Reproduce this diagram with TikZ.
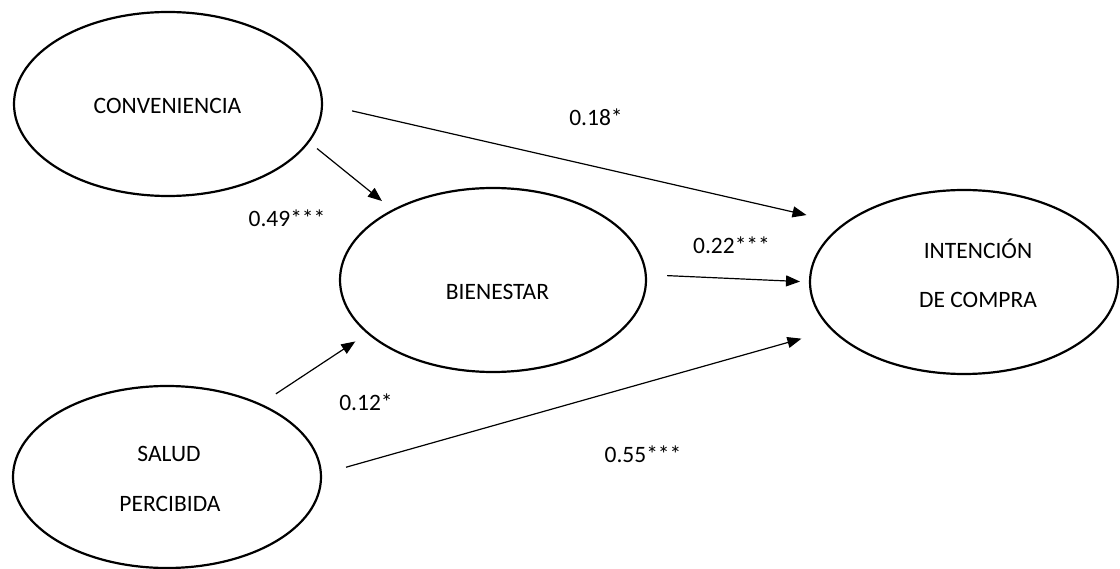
\documentclass[tikz,border=0pt]{standalone}
\usepackage{fontspec}
\setmainfont{Carlito}
\usetikzlibrary{shapes.geometric,arrows.meta}

\tikzset{
  construct/.style={ellipse, draw, line width=2.2pt, inner sep=0pt, outer sep=0pt,
                    minimum width=308pt, minimum height=184pt},
  txt/.style={anchor=base, inner sep=0pt, font=\fontsize{23.5}{28}\selectfont},
  path/.style={line width=1.2pt, -{Triangle[length=14pt,width=11pt]}}
}

\begin{document}
\begin{tikzpicture}[x=1pt, y=-1pt]
  \useasboundingbox (0,0) rectangle (1120,569);

  % latent constructs
  \node[construct] (conv) at (168,104) {};
  \node[construct, minimum width=306pt] (bien) at (493,280) {};
  \node[construct] (inte) at (964,282) {};
  \node[construct, minimum height=182pt] (salud) at (167,477) {};

  % construct names
  \node[txt] (convname) at (167.5,114) {CONVENIENCIA};
  \node[txt] (bienname) at (497.5,300) {BIENESTAR};
  \node[txt] (intename1) at (978,259) {INTENCIÓN};
  \node[txt] (intename2) at (978,308) {DE COMPRA};
  \node[txt] (saludname1) at (169,461) {SALUD};
  \node[txt] (saludname2) at (170,511) {PERCIBIDA};

  % structural paths
  \draw[path, shorten <=30.9pt, shorten >=39.2pt] (conv.0.8) -- (inte.154.8);
  \draw[path, shorten <=11.0pt, shorten >=14.6pt] (conv.-15.6) -- (bien.145.9);
  \draw[path, shorten <=21.5pt, shorten >=10.0pt] (bien.2.7) -- (inte.180.2);
  \draw[path, shorten <=19.2pt, shorten >=15.2pt] (salud.38.0) -- (bien.203.4);
  \draw[path, shorten <=26.1pt, shorten >=32.3pt] (salud.1.5) -- (inte.200.8);

  % path coefficients
  \node[txt] (c18) at (596,126) {0.18*};
  \node[txt] (c49) at (287,227) {0.49***};
  \node[txt] (c22) at (731.5,254) {0.22***};
  \node[txt] (c12) at (366,410) {0.12*};
  \node[txt] (c55) at (643,463) {0.55***};
\end{tikzpicture}
\end{document}
